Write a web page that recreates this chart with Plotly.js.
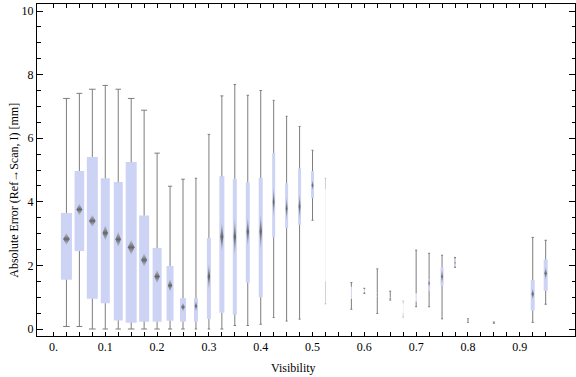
<!DOCTYPE html>
<html>
<head>
<meta charset="utf-8">
<script src="https://cdn.plot.ly/plotly-3.0.1.min.js"></script>
<style>html,body{margin:0;padding:0;background:#fff;}#chart{width:576px;height:377px;}</style>
</head>
<body>
<div id="chart"></div>
<script>
// ---- data ----
const visibility = [0.025,0.05,0.075,0.1,0.125,0.15,0.175,0.2,0.225,0.25,0.275,0.3,0.325,0.35,0.375,0.4,0.425,0.45,0.475,0.5,0.525,0.575,0.6,0.625,0.65,0.675,0.7,0.725,0.75,0.775,0.8,0.85,0.925,0.95];
const whiskerLow  = [0.08,0.08,0.0,0.0,0.0,0.0,0.0,0.0,0.0,0.0,0.0,0.0,0.0,0.11,0.11,0.15,0.36,0.25,0.31,3.42,0.79,0.62,1.12,0.49,0.91,0.37,0.70,0.70,0.32,1.94,0.21,0.18,0.21,0.78];
const q1          = [1.55,2.45,0.95,0.81,0.27,0.20,0.23,0.23,0.26,0.23,0.23,0.32,0.51,0.45,1.46,1.00,2.88,3.17,3.28,4.12,1.50,0.95,1.16,1.02,0.93,0.50,0.86,1.20,1.36,1.97,0.24,0.19,0.58,1.20];
const center      = [2.83,3.76,3.40,3.02,2.82,2.57,2.17,1.65,1.37,0.69,0.72,1.65,2.90,2.90,3.06,3.06,4.00,3.79,3.85,4.52,2.98,1.15,1.20,1.08,0.96,0.80,1.00,1.44,1.65,2.08,0.27,0.20,1.10,1.75];
const q3          = [3.65,4.97,5.41,4.74,4.62,5.25,3.57,2.55,1.98,0.97,0.97,2.86,4.80,4.72,4.61,4.75,5.53,4.58,5.05,4.96,4.40,1.33,1.25,1.14,1.00,0.80,1.12,1.57,1.94,2.20,0.30,0.21,1.54,2.19];
const whiskerHigh = [7.25,7.41,7.54,7.66,7.54,7.25,6.88,5.53,4.49,4.71,4.74,6.12,7.33,7.69,7.35,7.50,7.19,6.69,6.37,5.62,4.74,1.46,1.28,1.89,1.19,0.88,2.48,2.38,2.32,2.25,0.32,0.22,2.88,2.79];
const centerSpread = [0.19,0.19,0.19,0.24,0.24,0.24,0.21,0.21,0.20,0.14,0.17,0.42,0.47,0.60,0.47,0.58,0.47,0.37,0.42,0.17,2.28,0.55,0.05,0.10,0.05,0.90,0.30,0.15,0.25,0.05,0.03,0.01,0.18,0.20];
const sampleWeight = [11,9.7,11,9,9,11,10,9,7,6,4,4,5,4,4,4,3,3,3,3,0.6,1,1,1.5,1.5,0.6,1,2,3,2,1.5,1.5,4,4];

const xTickVals = [0,0.1,0.2,0.3,0.4,0.5,0.6,0.7,0.8,0.9];
const xTickText = ["0.","0.1","0.2","0.3","0.4","0.5","0.6","0.7","0.8","0.9"];
const yTickVals = [0,2,4,6,8,10];
const yTickText = ["0","2","4","6","8","10"];

// ---- styling ----
const X_RANGE = [-0.0318, 1.0066];
const Y_RANGE = [-0.22, 10.22];
const PLOT_W = 538;
const pxX = (X_RANGE[1]-X_RANGE[0]) / PLOT_W;
const BOX_COLOR = 'rgb(205,211,245)';
const WHISKER = 'rgba(125,125,125,';
const FONT = 'Liberation Serif';

const traces = [];
const opac = sampleWeight.map(w => w < 0.8 ? 0.4 : 1);

traces.push({
  type: 'bar', x: visibility, base: q1,
  y: q3.map((v,i) => v - q1[i]),
  width: sampleWeight.map(w => w * pxX),
  marker: {color: BOX_COLOR, opacity: opac, line: {width: 0}},
  hoverinfo: 'skip', showlegend: false
});

visibility.forEach((x, i) => {
  const cw = Math.max(0.3 * sampleWeight[i], 1) * pxX;
  const xs = [x, x, null, x, x, null, x-cw, x+cw, null, x-cw, x+cw];
  const ys = [whiskerHigh[i], q3[i], null, q1[i], whiskerLow[i], null,
              whiskerHigh[i], whiskerHigh[i], null, whiskerLow[i], whiskerLow[i]];
  traces.push({
    type: 'scatter', mode: 'lines', x: xs, y: ys,
    line: {color: WHISKER + (opac[i] < 1 ? 0.35 : 1) + ')', width: 1},
    hoverinfo: 'skip', showlegend: false
  });
});

visibility.forEach((x, i) => {
  const hw = 0.3 * sampleWeight[i] * pxX;
  const c = center[i], h = centerSpread[i];
  const a = opac[i] < 1 ? 0.35 : 1;
  traces.push({
    type: 'scatter', mode: 'lines', fill: 'toself',
    x: [x, x+hw, x, x-hw, x], y: [c+h, c, c-h, c, c+h],
    line: {width: 0, color: 'rgba(0,0,0,0)'},
    fillcolor: 'rgba(110,110,110,' + (0.85*a) + ')',
    fillgradient: {type: 'vertical', colorscale: [
      [0, 'rgba(140,140,140,' + (0.25*a) + ')'],
      [0.5, 'rgba(100,100,100,' + a + ')'],
      [1, 'rgba(140,140,140,' + (0.25*a) + ')']]},
    hoverinfo: 'skip', showlegend: false
  });
});

const allXTicks = [];
const allXText = [];
for (let k = 0; k <= 38; k++) {
  const v = +(k * 0.025).toFixed(3);
  allXTicks.push(v);
  const j = xTickVals.findIndex(t => Math.abs(t - v) < 1e-6);
  allXText.push(j >= 0 ? xTickText[j] : '');
}

const layout = {
  width: 576, height: 377,
  margin: {l: 37, r: 1, t: 4, b: 41},
  paper_bgcolor: '#fff', plot_bgcolor: '#fff',
  font: {family: FONT, size: 12, color: '#000'},
  barmode: 'overlay', showlegend: false,
  xaxis: {
    range: X_RANGE, tickmode: 'array', tickvals: allXTicks, ticktext: allXText,
    ticks: 'inside', ticklen: 4, tickwidth: 1, tickcolor: '#000',
    showline: true, linecolor: '#000', linewidth: 1, mirror: 'allticks',
    showgrid: false, zeroline: false,
    tickfont: {family: FONT, size: 12, color: '#000'}
  },
  yaxis: {
    range: Y_RANGE, tickmode: 'array', tickvals: yTickVals, ticktext: yTickText,
    ticks: 'inside', ticklen: 6, tickwidth: 1, tickcolor: '#000',
    minor: {dtick: 0.5, tick0: 0, ticks: 'inside', ticklen: 3.5, tickcolor: '#000', showgrid: false},
    showline: true, linecolor: '#000', linewidth: 1, mirror: 'allticks',
    showgrid: false, zeroline: false,
    tickfont: {family: FONT, size: 12, color: '#000'}
  },
  annotations: [
    {text: 'Visibility', xref: 'paper', yref: 'paper', x: 0.476, y: -0.096,
     xanchor: 'center', yanchor: 'middle', showarrow: false,
     font: {family: FONT, size: 12, color: '#000'}},
    {text: 'Absolute Error (Ref\u2192Scan, I) [mm]', xref: 'paper', yref: 'paper',
     x: -0.043, y: 0.44, xanchor: 'center', yanchor: 'middle', textangle: -90,
     showarrow: false, font: {family: FONT, size: 12, color: '#000'}}
  ]
};

Plotly.newPlot('chart', traces, layout, {staticPlot: true, displayModeBar: false});
</script>
</body>
</html>
